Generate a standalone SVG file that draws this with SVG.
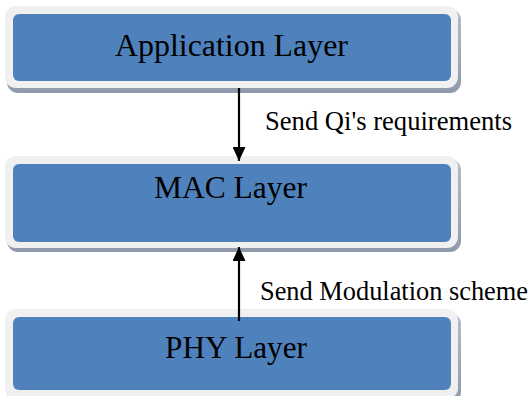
<svg xmlns="http://www.w3.org/2000/svg" width="532" height="396" viewBox="0 0 532 396">
  <defs>
    <linearGradient id="shadowGrad" x1="0" y1="0" x2="0" y2="1">
      <stop offset="0" stop-color="#b4bcc8"/>
      <stop offset="1" stop-color="#8e9aab"/>
    </linearGradient>
    <marker id="arrowHead" viewBox="0 0 14 13" refX="14" refY="6.5" markerWidth="14" markerHeight="13" markerUnits="userSpaceOnUse" orient="auto">
      <path d="M0,0 L14,6.5 L0,13 Z" fill="#000"/>
    </marker>
  </defs>
  <style>
    .shadow { fill: url(#shadowGrad); }
    .frame { fill: #f0f0f0; }
    .body { fill: #4f81bd; }
    .title { font-family: "Liberation Serif", "Times New Roman", serif; font-size: 31.5px; fill: #000; text-anchor: middle; }
    .label { font-family: "Liberation Serif", "Times New Roman", serif; font-size: 26.3px; fill: #000; }
    .link { stroke: #000; stroke-width: 2.2; fill: none; marker-end: url(#arrowHead); }
  </style>
  <rect width="532" height="396" fill="#fff"/>

  <g id="application-layer">
    <rect class="shadow" x="7" y="9" width="454" height="84" rx="11"/>
    <rect class="frame" x="5" y="6" width="453" height="82" rx="11"/>
    <rect class="body" x="13" y="14" width="438" height="67" rx="6"/>
    <text class="title" x="231.5" y="56" textLength="233" lengthAdjust="spacingAndGlyphs">Application Layer</text>
  </g>

  <g id="mac-layer">
    <rect class="shadow" x="7" y="159" width="454" height="93" rx="11"/>
    <rect class="frame" x="5" y="156" width="453" height="92" rx="11"/>
    <rect class="body" x="13" y="164" width="438" height="78" rx="6"/>
    <text class="title" x="230.5" y="198" textLength="153" lengthAdjust="spacingAndGlyphs">MAC Layer</text>
  </g>

  <g id="phy-layer">
    <rect class="shadow" x="7" y="313" width="454" height="90" rx="11"/>
    <rect class="frame" x="5" y="309" width="453" height="90" rx="11"/>
    <rect class="body" x="13" y="317" width="438" height="73" rx="6"/>
    <text class="title" x="236" y="358" textLength="142" lengthAdjust="spacingAndGlyphs">PHY Layer</text>
  </g>

  <g id="connectors">
    <line class="link" x1="239" y1="88" x2="239" y2="161"/>
    <line class="link" x1="239" y1="321" x2="239" y2="247"/>
    <text class="label" x="265" y="130" textLength="247" lengthAdjust="spacingAndGlyphs">Send Qi's requirements</text>
    <text class="label" x="260" y="300" textLength="268" lengthAdjust="spacingAndGlyphs">Send Modulation scheme</text>
  </g>
</svg>
